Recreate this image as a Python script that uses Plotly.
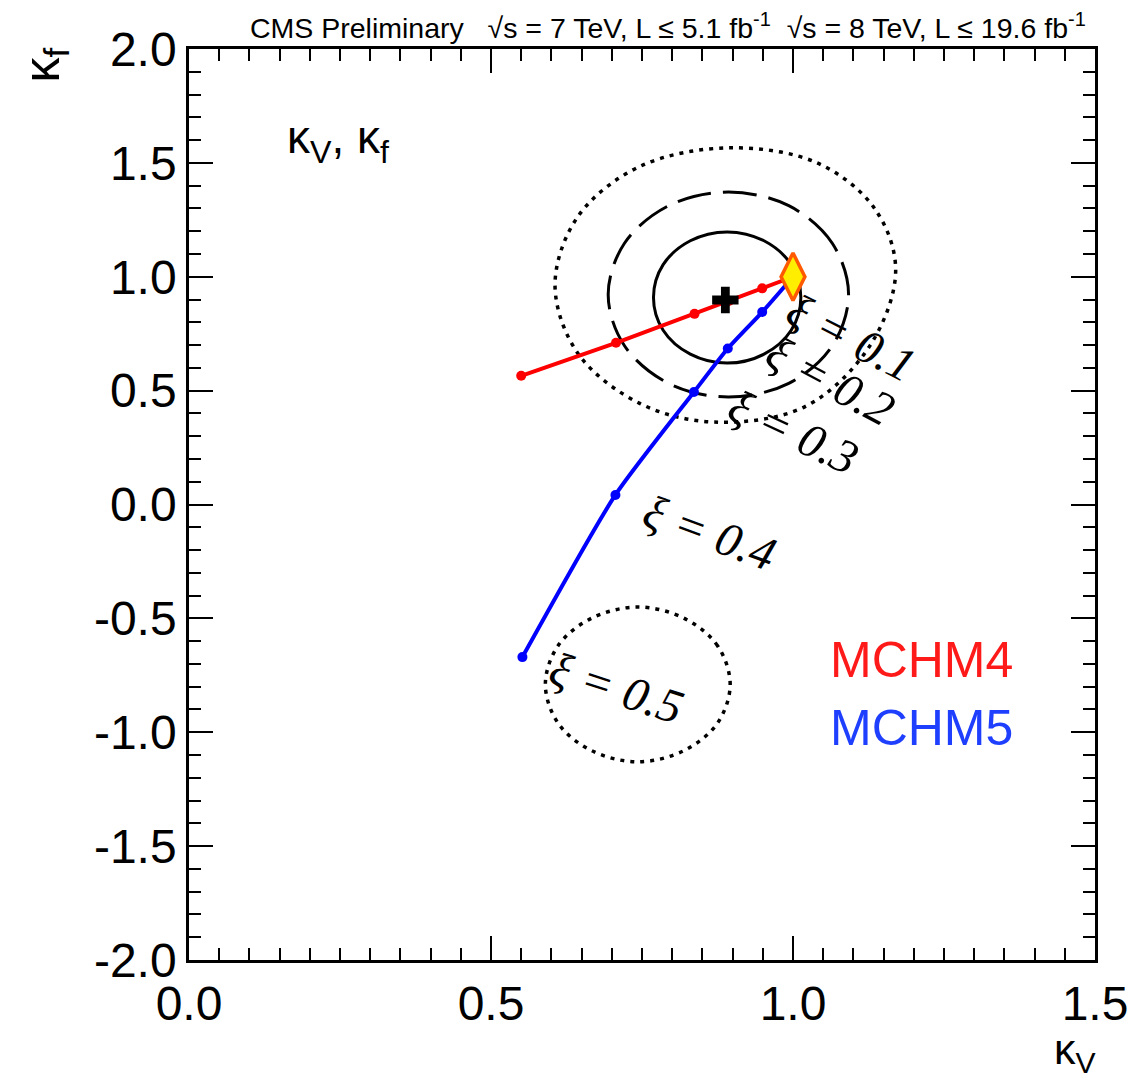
import plotly.graph_objects as go

# ---- data ----
mchm4_kv = [1.0, 0.949, 0.894, 0.837, 0.707, 0.550]
mchm4_kf = [1.0, 0.949, 0.894, 0.837, 0.710, 0.565]
mchm5_kv = [1.0, 0.949, 0.892, 0.836, 0.706, 0.552]
mchm5_kf = [1.0, 0.845, 0.685, 0.494, 0.042, -0.670]

best_kv = [0.888]
best_kf = [0.898]
sm_kv = [1.0]
sm_kf = [1.0]

c68_kv = [1.013, 0.997, 0.952, 0.891, 0.830, 0.785, 0.769, 0.785, 0.830, 0.891, 0.952, 0.997, 1.013]
c68_kf = [0.909, 1.053, 1.158, 1.197, 1.158, 1.053, 0.909, 0.765, 0.660, 0.621, 0.660, 0.765, 0.909]
c95_kv = [1.092, 1.065, 0.993, 0.893, 0.794, 0.721, 0.694, 0.721, 0.794, 0.893, 0.993, 1.065, 1.092]
c95_kf = [0.922, 1.147, 1.312, 1.372, 1.312, 1.147, 0.922, 0.697, 0.532, 0.472, 0.532, 0.697, 0.922]
c99_kv = [1.170, 1.135, 1.040, 0.895, 0.747, 0.644, 0.606, 0.644, 0.747, 0.870, 1.020, 1.128, 1.170]
c99_kf = [1.030, 1.300, 1.500, 1.566, 1.485, 1.265, 0.964, 0.663, 0.443, 0.362, 0.430, 0.700, 1.030]
c99b_kv = [0.896, 0.875, 0.820, 0.743, 0.666, 0.611, 0.590, 0.611, 0.666, 0.743, 0.820, 0.875, 0.896]
c99b_kf = [-0.79, -0.62, -0.50, -0.45, -0.50, -0.62, -0.79, -0.96, -1.08, -1.13, -1.08, -0.96, -0.79]

xi_labels = ["ξ = 0.1", "ξ = 0.2", "ξ = 0.3", "ξ = 0.4", "ξ = 0.5"]
xi_x = [1.097, 1.062, 1.000, 0.862, 0.707]
xi_y = [0.735, 0.545, 0.320, -0.125, -0.805]
xi_angle = [27, 28, 25, 20, 18]

x_ticks = [0.0, 0.5, 1.0, 1.5]
y_ticks = [-2.0, -1.5, -1.0, -0.5, 0.0, 0.5, 1.0, 1.5, 2.0]

fig = go.Figure()

def contour(xs, ys, dash, width=3):
    fig.add_trace(go.Scatter(x=xs, y=ys, mode="lines",
                             line=dict(color="black", width=width, dash=dash, shape="spline", smoothing=1.0),
                             showlegend=False, hoverinfo="skip"))

contour(c99_kv, c99_kf, "4px,6px", 3.5)
contour(c99b_kv, c99b_kf, "4px,6px", 3.5)
contour(c95_kv, c95_kf, "34px,12px", 3)
contour(c68_kv, c68_kf, "solid", 3)

fig.add_trace(go.Scatter(x=mchm4_kv, y=mchm4_kf, mode="lines+markers",
                         line=dict(color="#ff0000", width=4), marker=dict(color="#ff0000", size=10),
                         showlegend=False))
fig.add_trace(go.Scatter(x=mchm5_kv, y=mchm5_kf, mode="lines+markers",
                         line=dict(color="#0000ff", width=4, shape="spline", smoothing=0.6),
                         marker=dict(color="#0000ff", size=10), showlegend=False))
fig.add_trace(go.Scatter(x=best_kv, y=best_kf, mode="markers",
                         marker=dict(symbol="cross", color="black", size=22, line=dict(width=0)),
                         showlegend=False))
fig.add_trace(go.Scatter(x=sm_kv, y=sm_kf, mode="markers",
                         marker=dict(symbol="diamond-tall", color="#ffee00", size=34,
                                     line=dict(color="#ff5a00", width=3.5)),
                         showlegend=False))

for t, x, y, a in zip(xi_labels, xi_x, xi_y, xi_angle):
    fig.add_annotation(x=x, y=y, xref="x", yref="y", text="<i>" + t + "</i>", showarrow=False,
                       textangle=a, font=dict(family="Liberation Serif, DejaVu Serif", size=48, color="black"))

sans = "Liberation Sans, Arial, Helvetica"
fig.add_annotation(x=(828 - 189) / 906, y=(960 - 660) / 911, xref="paper", yref="paper", text="MCHM4",
                   showarrow=False, xanchor="left", yanchor="middle",
                   font=dict(family=sans, size=50, color="#ff1a1a"))
fig.add_annotation(x=(828 - 189) / 906, y=(960 - 728) / 911, xref="paper", yref="paper", text="MCHM5",
                   showarrow=False, xanchor="left", yanchor="middle",
                   font=dict(family=sans, size=50, color="#1f3fff"))
fig.add_annotation(x=(285 - 189) / 906, y=(960 - 140) / 911, xref="paper", yref="paper",
                   text="κ<sub>V</sub>, κ<sub>f</sub>", showarrow=False, xanchor="left", yanchor="middle",
                   font=dict(family=sans, size=46, color="black"))

# Header text
fig.add_annotation(x=(248 - 189) / 906, y=1 + (49 - 26) / 911, xref="paper", yref="paper",
                   text="CMS Preliminary   √s = 7 TeV, L ≤ 5.1 fb<sup>-1</sup>  √s = 8 TeV, L ≤ 19.6 fb<sup>-1</sup>",
                   showarrow=False, xanchor="left", yanchor="middle",
                   font=dict(family="Liberation Sans", size=28.5, color="black"))
# axis titles
fig.add_annotation(x=(1098 - 189) / 906, y=-(1081 - 960) / 911, xref="paper", yref="paper", text="κ<sub>V</sub>",
                   showarrow=False, xanchor="right", yanchor="bottom",
                   font=dict(family=sans, size=43, color="black"))
fig.add_annotation(x=-(189 - 45) / 906, y=1 - (46 - 49) / 911, xref="paper", yref="paper", text="κ<sub>f</sub>",
                   showarrow=False, textangle=-90, xanchor="center", yanchor="top",
                   font=dict(family=sans, size=50, color="black"))

axis_common = dict(showgrid=False, zeroline=False, showline=True, linecolor="black", linewidth=2.5,
                   mirror="ticks", ticks="inside", ticklen=24, tickwidth=1.5, tickcolor="black",
                   automargin=False,
                   tickfont=dict(family=sans, size=48, color="black"))
fig.update_xaxes(range=[0, 1.5], tickvals=x_ticks, ticktext=[f"{v:.1f}" for v in x_ticks],
                 minor=dict(dtick=0.05, ticklen=12, ticks="inside", tickcolor="black", tickwidth=1.5),
                 **axis_common)
fig.update_yaxes(range=[-2, 2], tickvals=y_ticks, ticktext=[f"{v:.1f}" for v in y_ticks],
                 minor=dict(dtick=0.1, ticklen=12, ticks="inside", tickcolor="black", tickwidth=1.5),
                 **axis_common)

fig.update_layout(width=1131, height=1082, margin=dict(l=189, r=36, t=49, b=122),
                  plot_bgcolor="white", paper_bgcolor="white", showlegend=False)

fig.write_html("out.html")
